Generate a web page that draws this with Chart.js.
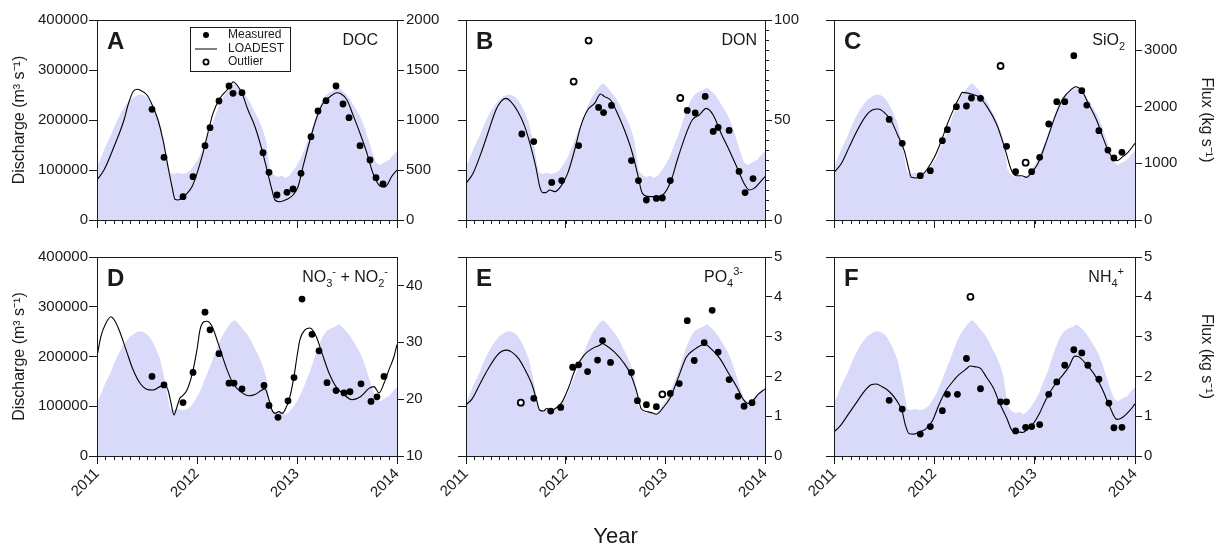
<!DOCTYPE html>
<html>
<head>
<meta charset="utf-8">
<title>Discharge and flux, 2011-2014</title>
<script src="https://cdn.jsdelivr.net/npm/chart.js@4.4.1/dist/chart.umd.min.js"></script>
<style>
  html, body { margin: 0; padding: 0; background: #fff; overflow: hidden; }
  #wrap { position: relative; width: 1217px; height: 548px; }
  canvas { position: absolute; }
</style>
</head>
<body>
<div id="wrap">
  <canvas id="cA"></canvas>
  <canvas id="cB"></canvas>
  <canvas id="cC"></canvas>
  <canvas id="cD"></canvas>
  <canvas id="cE"></canvas>
  <canvas id="cF"></canvas>
</div>
<script>
// ---- data ----
const yearTicks = [2011, 2012, 2013, 2014];
const qTicks = [0, 100000, 200000, 300000, 400000];

// river discharge (m3/s), same in every panel
const qYear = [2011.00, 2011.04, 2011.08, 2011.13, 2011.17, 2011.21, 2011.25, 2011.29, 2011.33, 2011.38, 2011.42, 2011.46, 2011.50, 2011.54, 2011.58, 2011.63, 2011.67, 2011.69, 2011.71, 2011.73, 2011.77, 2011.81, 2011.85, 2011.90, 2011.94, 2011.98,
  2012.02, 2012.06, 2012.10, 2012.15, 2012.19, 2012.23, 2012.27, 2012.31, 2012.35, 2012.38, 2012.42, 2012.46, 2012.50, 2012.54, 2012.58, 2012.62, 2012.65, 2012.69, 2012.71, 2012.73, 2012.77, 2012.81, 2012.85, 2012.88, 2012.92, 2012.96,
  2013.00, 2013.04, 2013.08, 2013.13, 2013.17, 2013.21, 2013.25, 2013.29, 2013.33, 2013.38, 2013.42, 2013.46, 2013.50, 2013.54, 2013.58, 2013.63, 2013.67, 2013.71, 2013.75, 2013.79, 2013.83, 2013.87, 2013.92, 2013.96, 2014.00];
const qValue = [105000, 125000, 145000, 165000, 185000, 203000, 218000, 230000, 240000, 247000, 251000, 250000, 245000, 235000, 220000, 195000, 160000, 140000, 115000, 95000, 92000, 95000, 92000, 94000, 100000, 112000,
  125000, 145000, 165000, 190000, 212000, 232000, 248000, 260000, 270000, 273000, 265000, 255000, 245000, 232000, 215000, 200000, 185000, 160000, 130000, 100000, 90000, 86000, 89000, 84000, 88000, 98000,
  110000, 125000, 145000, 170000, 195000, 218000, 238000, 250000, 256000, 260000, 265000, 258000, 250000, 238000, 225000, 208000, 188000, 163000, 138000, 115000, 110000, 115000, 120000, 130000, 138000];

// A: DOC
const docTicks = [0, 500, 1000, 1500, 2000];
const docLineYear = [2011.00, 2011.07, 2011.17, 2011.27, 2011.31, 2011.36, 2011.40, 2011.43, 2011.50, 2011.56, 2011.61, 2011.66, 2011.71, 2011.75, 2011.78, 2011.81, 2011.85, 2011.90, 2011.95,
  2012.00, 2012.05, 2012.10, 2012.16, 2012.23, 2012.30, 2012.34, 2012.36, 2012.40, 2012.45, 2012.51, 2012.58, 2012.65, 2012.70, 2012.75, 2012.78, 2012.83, 2012.90, 2012.96,
  2013.01, 2013.06, 2013.13, 2013.20, 2013.26, 2013.33, 2013.40, 2013.43, 2013.50, 2013.56, 2013.63, 2013.70, 2013.76, 2013.83, 2013.88, 2013.95, 2014.00];
const docLineFlux = [400, 500, 733, 1000, 1150, 1283, 1307, 1300, 1250, 1133, 1000, 800, 533, 333, 207, 200, 217, 267, 333,
  467, 633, 833, 1067, 1217, 1300, 1350, 1383, 1350, 1267, 1100, 933, 700, 500, 300, 200, 183, 207, 250,
  333, 533, 800, 1033, 1167, 1233, 1273, 1267, 1200, 1050, 867, 667, 467, 340, 330, 440, 500];
const docMeasYear = [2011.55, 2011.67, 2011.86, 2011.96, 2012.08, 2012.13, 2012.22, 2012.32, 2012.36, 2012.45, 2012.66, 2012.72, 2012.80, 2012.90, 2012.96, 2013.04, 2013.14, 2013.21, 2013.29, 2013.39, 2013.46, 2013.52, 2013.63, 2013.73, 2013.79, 2013.86];
const docMeasFlux = [1107, 627, 233, 433, 743, 923, 1190, 1340, 1267, 1273, 673, 477, 250, 277, 310, 467, 833, 1090, 1193, 1340, 1160, 1023, 743, 600, 423, 360];

// B: DON
const donTicks = [0, 50, 100];
const donLineYear = [2011.00, 2011.07, 2011.15, 2011.23, 2011.30, 2011.35, 2011.40, 2011.45, 2011.52, 2011.59, 2011.65, 2011.70, 2011.74, 2011.77, 2011.80, 2011.84, 2011.89, 2011.95,
  2012.02, 2012.09, 2012.15, 2012.22, 2012.29, 2012.35, 2012.39, 2012.45, 2012.52, 2012.59, 2012.66, 2012.72, 2012.77, 2012.84, 2012.92, 2012.99,
  2013.06, 2013.12, 2013.21, 2013.27, 2013.34, 2013.41, 2013.48, 2013.56, 2013.64, 2013.73, 2013.79, 2013.84, 2013.89, 2013.94, 2014.00];
const donLineFlux = [18.3, 23.3, 33.3, 45, 55, 59.2, 60.8, 59.2, 54.2, 46.7, 36.7, 26.7, 16.7, 13.7, 13.7, 15, 14.2, 16.7,
  23.3, 35, 46.7, 55, 58.3, 63, 61.7, 60, 53.3, 45, 35, 23.3, 13.3, 11.7, 11.7, 13.3,
  20, 30, 43.3, 50, 52.5, 55.8, 52.5, 43.3, 35, 25, 18.3, 15, 15.8, 18.3, 21.7];
const donMeasYear = [2011.56, 2011.68, 2011.86, 2011.96, 2012.13, 2012.33, 2012.38, 2012.46, 2012.66, 2012.73, 2012.81, 2012.91, 2012.97, 2013.05, 2013.22, 2013.30, 2013.40, 2013.48, 2013.53, 2013.64, 2013.74, 2013.80, 2013.88];
const donMeasFlux = [43, 39.2, 18.8, 19.7, 37.2, 56.3, 53.7, 57.3, 29.7, 19.7, 10, 10.8, 11, 19.7, 54.8, 53.5, 61.8, 44.3, 46.3, 44.8, 24.3, 13.7, 20.7];
const donOutYear = [2012.08, 2012.23, 2013.15];
const donOutFlux = [69.2, 89.7, 61];

// C: SiO2
const siTicks = [0, 1000, 2000, 3000];
const siLineYear = [2011.00, 2011.07, 2011.15, 2011.23, 2011.32, 2011.38, 2011.44, 2011.50, 2011.57, 2011.63, 2011.70, 2011.75, 2011.77, 2011.82, 2011.87, 2011.93,
  2012.00, 2012.07, 2012.13, 2012.20, 2012.25, 2012.28, 2012.37, 2012.45, 2012.53, 2012.62, 2012.70, 2012.77, 2012.82, 2012.87, 2012.92, 2012.97,
  2013.03, 2013.12, 2013.20, 2013.28, 2013.37, 2013.41, 2013.47, 2013.53, 2013.62, 2013.68, 2013.75, 2013.82, 2013.87, 2013.93, 2014.00];
const siLineFlux = [841, 988, 1282, 1576, 1841, 1941, 1959, 1900, 1753, 1518, 1224, 871, 753, 741, 782, 900,
  1106, 1400, 1694, 1988, 2165, 2253, 2224, 2165, 1988, 1694, 1282, 871, 782, 782, 753, 841,
  988, 1400, 1812, 2135, 2312, 2353, 2282, 2076, 1753, 1459, 1165, 1047, 1106, 1194, 1353];
const siMeasYear = [2011.55, 2011.68, 2011.86, 2011.96, 2012.08, 2012.13, 2012.22, 2012.32, 2012.37, 2012.46, 2012.72, 2012.81, 2012.97, 2013.05, 2013.14, 2013.22, 2013.30, 2013.39, 2013.47, 2013.52, 2013.64, 2013.73, 2013.79, 2013.87];
const siMeasFlux = [1776, 1353, 782, 871, 1400, 1594, 2000, 2012, 2153, 2147, 1300, 853, 853, 1106, 1694, 2088, 2088, 2900, 2282, 2029, 1576, 1235, 1094, 1194];
const siOutYear = [2012.66, 2012.91];
const siOutFlux = [2718, 1012];

// D: NO3- + NO2-
const noxTicks = [10, 20, 30, 40];
const noxLineYear = [2011.00, 2011.04, 2011.09, 2011.14, 2011.17, 2011.22, 2011.29, 2011.36, 2011.43, 2011.49, 2011.56, 2011.63, 2011.68, 2011.71, 2011.74, 2011.77, 2011.79, 2011.83, 2011.85, 2011.90, 2011.95,
  2012.00, 2012.03, 2012.07, 2012.10, 2012.15, 2012.21, 2012.30, 2012.36, 2012.43, 2012.52, 2012.58, 2012.65, 2012.68, 2012.72, 2012.75, 2012.78, 2012.82, 2012.85, 2012.88, 2012.93, 2012.97,
  2013.00, 2013.03, 2013.08, 2013.13, 2013.19, 2013.25, 2013.32, 2013.39, 2013.47, 2013.55, 2013.64, 2013.72, 2013.77, 2013.82, 2013.87, 2013.92, 2013.97, 2014.00];
const noxLineFlux = [27.5, 31.1, 33.4, 34.5, 34.0, 32.2, 28.7, 25.2, 22.8, 21.8, 21.6, 22.2, 22.4, 21.6, 19.3, 17.2, 18.1, 20.2, 20.5, 21.6, 24.3,
  28.7, 32.2, 33.6, 33.7, 32.8, 29.9, 25.2, 22.8, 21.4, 20.6, 20.8, 21.6, 21.8, 19.9, 18.1, 17.5, 17.8, 17.5, 18.1, 20.5, 24.0,
  27.5, 30.5, 32.2, 32.5, 31.1, 28.1, 24.6, 22.2, 20.8, 19.9, 20.5, 21.9, 22.2, 21.1, 22.8, 25.2, 27.5, 29.6];
const noxMeasYear = [2011.55, 2011.67, 2011.86, 2011.96, 2012.08, 2012.13, 2012.22, 2012.32, 2012.37, 2012.45, 2012.67, 2012.72, 2012.81, 2012.91, 2012.97, 2013.05, 2013.15, 2013.22, 2013.30, 2013.39, 2013.47, 2013.53, 2013.64, 2013.74, 2013.80, 2013.87];
const noxMeasFlux = [24.0, 22.5, 19.4, 24.7, 35.3, 32.2, 28.0, 22.8, 22.8, 21.8, 22.4, 18.9, 16.8, 19.7, 23.8, 37.6, 31.4, 28.5, 22.9, 21.5, 21.1, 21.3, 22.7, 19.6, 20.4, 24.0];

// E: PO4 3-
const poTicks = [0, 1, 2, 3, 4, 5];
const poLineYear = [2011.00, 2011.06, 2011.14, 2011.22, 2011.31, 2011.36, 2011.41, 2011.46, 2011.53, 2011.59, 2011.66, 2011.71, 2011.74, 2011.78, 2011.81, 2011.84, 2011.89, 2011.96,
  2012.03, 2012.09, 2012.18, 2012.26, 2012.33, 2012.37, 2012.41, 2012.49, 2012.58, 2012.65, 2012.71, 2012.76, 2012.81, 2012.86, 2012.91, 2012.98,
  2013.05, 2013.13, 2013.21, 2013.30, 2013.35, 2013.40, 2013.46, 2013.55, 2013.63, 2013.72, 2013.78, 2013.83, 2013.88, 2013.93, 2014.00];
const poLineFlux = [1.29, 1.43, 1.81, 2.18, 2.52, 2.63, 2.66, 2.61, 2.44, 2.18, 1.81, 1.39, 1.15, 1.13, 1.20, 1.13, 1.18, 1.34,
  1.72, 2.14, 2.52, 2.69, 2.77, 2.82, 2.77, 2.61, 2.35, 2.06, 1.64, 1.18, 1.12, 1.09, 1.05, 1.22,
  1.47, 1.97, 2.48, 2.69, 2.77, 2.80, 2.69, 2.44, 2.10, 1.72, 1.43, 1.32, 1.39, 1.55, 1.68];
const poMeasYear = [2011.68, 2011.85, 2011.95, 2012.07, 2012.13, 2012.22, 2012.32, 2012.37, 2012.45, 2012.66, 2012.72, 2012.81, 2012.91, 2013.05, 2013.14, 2013.22, 2013.29, 2013.39, 2013.47, 2013.53, 2013.64, 2013.73, 2013.79, 2013.87];
const poMeasFlux = [1.45, 1.13, 1.22, 2.23, 2.29, 2.12, 2.41, 2.90, 2.35, 2.10, 1.39, 1.29, 1.24, 1.57, 1.82, 3.40, 2.40, 2.85, 3.66, 2.61, 1.92, 1.50, 1.25, 1.34];
const poOutYear = [2011.55, 2012.97];
const poOutFlux = [1.34, 1.55];

// F: NH4+
const nhTicks = [0, 1, 2, 3, 4, 5];
const nhLineYear = [2011.00, 2011.06, 2011.14, 2011.22, 2011.30, 2011.37, 2011.42, 2011.48, 2011.55, 2011.62, 2011.68, 2011.71, 2011.75, 2011.80, 2011.85, 2011.91, 2011.98,
  2012.04, 2012.11, 2012.18, 2012.24, 2012.31, 2012.36, 2012.41, 2012.46, 2012.52, 2012.59, 2012.65, 2012.72, 2012.78, 2012.83, 2012.88, 2012.93, 2012.98,
  2013.05, 2013.11, 2013.20, 2013.28, 2013.34, 2013.40, 2013.44, 2013.51, 2013.59, 2013.67, 2013.74, 2013.82, 2013.87, 2013.94, 2014.00];
const nhLineFlux = [0.61, 0.75, 1.04, 1.33, 1.62, 1.79, 1.81, 1.74, 1.62, 1.41, 1.12, 0.79, 0.56, 0.55, 0.61, 0.67, 0.88,
  1.25, 1.62, 1.86, 2.03, 2.17, 2.26, 2.24, 2.20, 1.98, 1.70, 1.33, 0.96, 0.63, 0.61, 0.59, 0.67, 0.79,
  1.08, 1.41, 1.79, 2.03, 2.24, 2.51, 2.49, 2.32, 2.07, 1.70, 1.29, 0.92, 0.96, 1.12, 1.31];
const nhMeasYear = [2011.55, 2011.68, 2011.86, 2011.96, 2012.08, 2012.13, 2012.23, 2012.32, 2012.46, 2012.66, 2012.72, 2012.81, 2012.91, 2012.97, 2013.05, 2013.14, 2013.22, 2013.30, 2013.39, 2013.47, 2013.53, 2013.64, 2013.74, 2013.79, 2013.87];
const nhMeasFlux = [1.40, 1.18, 0.55, 0.74, 1.14, 1.55, 1.55, 2.45, 1.69, 1.36, 1.36, 0.63, 0.72, 0.74, 0.79, 1.55, 1.86, 2.28, 2.67, 2.59, 2.28, 1.93, 1.33, 0.71, 0.72];
const nhOutYear = [2012.36];
const nhOutFlux = [4.0];

// ---- layout and style ----
const FONT = "'Liberation Sans', Arial, Helvetica, sans-serif";
const INK = '#1a1a1a';
const FILL = '#d9d9fa';

const cols = [
  { left: 97, width: 300, padL: 97, padR: 50 },
  { left: 466, width: 299, padL: 40, padR: 50 },
  { left: 834, width: 301, padL: 40, padR: 82 }
];
const rows = [
  { top: 20, height: 200, padT: 20, padB: 16 },
  { top: 257, height: 199, padT: 20, padB: 92 }
];

const panels = [
  { id: 'cA', letter: 'A', col: 0, row: 0, name: [['DOC', 0]], nameDx: 19, fMin: 0, fMax: 2000, fTicks: docTicks,
    lx: docLineYear, ly: docLineFlux, mx: docMeasYear, my: docMeasFlux, ox: [], oy: [], legend: true },
  { id: 'cB', letter: 'B', col: 1, row: 0, name: [['DON', 0]], nameDx: 8, fMin: 0, fMax: 100, fTicks: donTicks, minor: 5,
    lx: donLineYear, ly: donLineFlux, mx: donMeasYear, my: donMeasFlux, ox: donOutYear, oy: donOutFlux },
  { id: 'cC', letter: 'C', col: 2, row: 0, name: [['SiO', 0], ['2', -1]], nameDx: 10, fMin: 0, fMax: 3530, fTicks: siTicks,
    lx: siLineYear, ly: siLineFlux, mx: siMeasYear, my: siMeasFlux, ox: siOutYear, oy: siOutFlux },
  { id: 'cD', letter: 'D', col: 0, row: 1, name: [['NO', 0], ['3', -1], ['-', 1], [' + NO', 0], ['2', -1], ['-', 1]], nameDx: 9, fMin: 10, fMax: 45, fTicks: noxTicks,
    lx: noxLineYear, ly: noxLineFlux, mx: noxMeasYear, my: noxMeasFlux, ox: [], oy: [] },
  { id: 'cE', letter: 'E', col: 1, row: 1, name: [['PO', 0], ['4', -1], ['3-', 1]], nameDx: 22, fMin: 0, fMax: 5, fTicks: poTicks,
    lx: poLineYear, ly: poLineFlux, mx: poMeasYear, my: poMeasFlux, ox: poOutYear, oy: poOutFlux },
  { id: 'cF', letter: 'F', col: 2, row: 1, name: [['NH', 0], ['4', -1], ['+', 1]], nameDx: 11, fMin: 0, fMax: 5, fTicks: nhTicks,
    lx: nhLineYear, ly: nhLineFlux, mx: nhMeasYear, my: nhMeasFlux, ox: nhOutYear, oy: nhOutFlux }
];

Chart.defaults.font.family = FONT;
Chart.defaults.color = INK;

const pts = (xs, ys) => xs.map((x, i) => ({ x: x, y: ys[i] }));

// text with sub/superscripts, right aligned
function drawRich(ctx, parts, xRight, y, size) {
  const big = size + 'px ' + FONT;
  const small = Math.round(size * 0.68) + 'px ' + FONT;
  let w = 0;
  parts.forEach(p => { ctx.font = p[1] ? small : big; w += ctx.measureText(p[0]).width; });
  let x = xRight - w;
  ctx.textAlign = 'left';
  ctx.textBaseline = 'middle';
  parts.forEach(p => {
    ctx.font = p[1] ? small : big;
    const dy = p[1] === -1 ? size * 0.38 : (p[1] === 1 ? -size * 0.4 : 0);
    ctx.fillText(p[0], x, y + dy);
    x += ctx.measureText(p[0]).width;
  });
}

function drawMinor(chart, axisId, from, to, step, len) {
  const s = chart.scales[axisId], a = chart.chartArea, ctx = chart.ctx;
  const n = Math.round((to - from) / step);
  ctx.save();
  ctx.strokeStyle = INK;
  ctx.lineWidth = 1;
  ctx.beginPath();
  for (let i = 0; i <= n; i++) {
    const v = from + i * step;
    const p = Math.round(s.getPixelForValue(v)) + 0.5;
    if (s.isHorizontal()) { ctx.moveTo(p, a.bottom); ctx.lineTo(p, a.bottom + len); }
    else { ctx.moveTo(a.right, p); ctx.lineTo(a.right + len, p); }
  }
  ctx.stroke();
  ctx.restore();
}

const panelDecor = {
  id: 'panelDecor',
  afterDatasetsDraw(chart, args, opts) {
    const a = chart.chartArea, ctx = chart.ctx;
    ctx.save();
    ctx.strokeStyle = INK;
    ctx.lineWidth = 1;
    ctx.strokeRect(a.left + 0.5, a.top + 0.5, a.width, a.height);
    ctx.restore();
  },
  afterDraw(chart, args, opts) {
    const a = chart.chartArea, ctx = chart.ctx;
    drawMinor(chart, 'x', 2011, 2014, 1 / 12, 4);
    if (opts.minor) drawMinor(chart, 'y1', opts.fMin, opts.fMax, opts.minor, 4);
    ctx.save();
    ctx.fillStyle = INK;
    ctx.font = 'bold 24px ' + FONT;
    ctx.textAlign = 'left';
    ctx.textBaseline = 'middle';
    ctx.fillText(opts.letter, a.left + 10, a.top + 22);
    drawRich(ctx, opts.name, a.right - opts.nameDx, a.top + 21, 16);
    if (opts.legend) {
      const bx = a.left + 93, by = a.top + 7;
      ctx.strokeStyle = INK;
      ctx.lineWidth = 1;
      ctx.strokeRect(bx + 0.5, by + 0.5, 100, 44);
      const sx = bx + 16, tx = bx + 38;
      ctx.font = '12px ' + FONT;
      ctx.textAlign = 'left';
      ctx.textBaseline = 'middle';
      const items = chart.data.datasets.filter(d => d.inLegend).sort((p, q) => p.legendRow - q.legendRow);
      items.forEach((d, i) => {
        const y = by + 8 + i * 13.5;
        if (d.showLine === false) {
          ctx.beginPath();
          ctx.arc(sx, y, d.legendRadius, 0, Math.PI * 2);
          ctx.fillStyle = d.pointBackgroundColor;
          ctx.fill();
          if (d.pointBorderWidth) { ctx.lineWidth = d.pointBorderWidth; ctx.strokeStyle = d.pointBorderColor; ctx.stroke(); }
        } else {
          ctx.beginPath();
          ctx.moveTo(sx - 11, y + 0.5);
          ctx.lineTo(sx + 11, y + 0.5);
          ctx.lineWidth = 1;
          ctx.strokeStyle = d.borderColor;
          ctx.stroke();
        }
        ctx.fillStyle = INK;
        ctx.fillText(d.label, tx, y);
      });
    }
    ctx.restore();
  }
};

panels.forEach(p => {
  const c = cols[p.col], r = rows[p.row];
  const cv = document.getElementById(p.id);
  const w = c.padL + c.width + c.padR, h = r.padT + r.height + r.padB;
  cv.width = w; cv.height = h;
  cv.style.left = (c.left - c.padL) + 'px';
  cv.style.top = (r.top - r.padT) + 'px';
  cv.style.width = w + 'px'; cv.style.height = h + 'px';

  const tickFont = { size: 15 };
  const titleFont = { size: 16 };

  new Chart(cv, {
    type: 'line',
    data: {
      datasets: [
        { label: 'Outlier', data: pts(p.ox, p.oy), yAxisID: 'y1', showLine: false, pointRadius: 3, legendRadius: 2.6,
          pointBackgroundColor: '#ffffff', pointBorderColor: '#000000', pointBorderWidth: 1.8, order: 0, inLegend: true, legendRow: 3 },
        { label: 'Measured', data: pts(p.mx, p.my), yAxisID: 'y1', showLine: false, pointRadius: 3.4, legendRadius: 3,
          pointBackgroundColor: '#000000', pointBorderColor: '#000000', pointBorderWidth: 0, order: 1, inLegend: true, legendRow: 1 },
        { label: 'LOADEST', data: pts(p.lx, p.ly), yAxisID: 'y1', borderColor: '#000000', borderWidth: 1.1,
          pointRadius: 0, cubicInterpolationMode: 'monotone', fill: false, order: 2, inLegend: true, legendRow: 2 },
        { label: 'Discharge', data: pts(qYear, qValue), yAxisID: 'y', borderWidth: 0, borderColor: FILL,
          backgroundColor: FILL, fill: 'origin', pointRadius: 0, tension: 0, order: 3 }
      ]
    },
    options: {
      responsive: false,
      animation: false,
      events: [],
      layout: { padding: { top: r.padT, left: 0, right: 0, bottom: 0 } },
      plugins: {
        legend: { display: false },
        tooltip: { enabled: false },
        panelDecor: { letter: p.letter, name: p.name, nameDx: p.nameDx, legend: !!p.legend, minor: p.minor, fMin: p.fMin, fMax: p.fMax }
      },
      scales: {
        x: {
          type: 'linear', min: 2011, max: 2014,
          afterBuildTicks: s => { s.ticks = yearTicks.map(v => ({ value: v })); },
          ticks: { autoSkip: false, minRotation: 45, maxRotation: 45, padding: 1, font: tickFont, color: INK,
            callback: v => (p.row === 1 ? String(v) : '') },
          grid: { drawOnChartArea: false, tickLength: 8, color: INK, tickColor: INK },
          border: { display: false },
          title: p.letter === 'E'
            ? { display: true, text: 'Year', font: { size: 22, lineHeight: 1 }, color: INK, padding: { top: 0, bottom: 0 } }
            : { display: false },
          afterFit: s => { s.height = r.padB; s.paddingLeft = 0; s.paddingRight = 0; }
        },
        y: {
          position: 'left', min: 0, max: 400000,
          afterBuildTicks: s => { s.ticks = qTicks.map(v => ({ value: v })); },
          ticks: { padding: 1, font: tickFont, color: INK, callback: v => (p.col === 0 ? String(v) : '') },
          grid: { drawOnChartArea: false, tickLength: 8, color: INK, tickColor: INK },
          border: { display: false },
          title: p.col === 0
            ? { display: true, text: 'Discharge (m³ s⁻¹)', font: titleFont, color: INK, padding: { top: 10, bottom: 0 } }
            : { display: false },
          afterFit: s => { s.width = c.padL; s.paddingTop = 0; s.paddingBottom = 0; }
        },
        y1: {
          position: 'right', min: p.fMin, max: p.fMax,
          afterBuildTicks: s => { s.ticks = p.fTicks.map(v => ({ value: v })); },
          ticks: { padding: 2, font: tickFont, color: INK, callback: v => String(v) },
          grid: { drawOnChartArea: false, tickLength: 7, color: INK, tickColor: INK },
          border: { display: false },
          title: p.col === 2
            ? { display: true, text: 'Flux (kg s⁻¹)', font: titleFont, color: INK, padding: { top: 1, bottom: 0 } }
            : { display: false },
          afterFit: s => { s.width = c.padR; s.paddingTop = 0; s.paddingBottom = 0; }
        }
      }
    },
    plugins: [panelDecor]
  });
});
</script>
</body>
</html>
